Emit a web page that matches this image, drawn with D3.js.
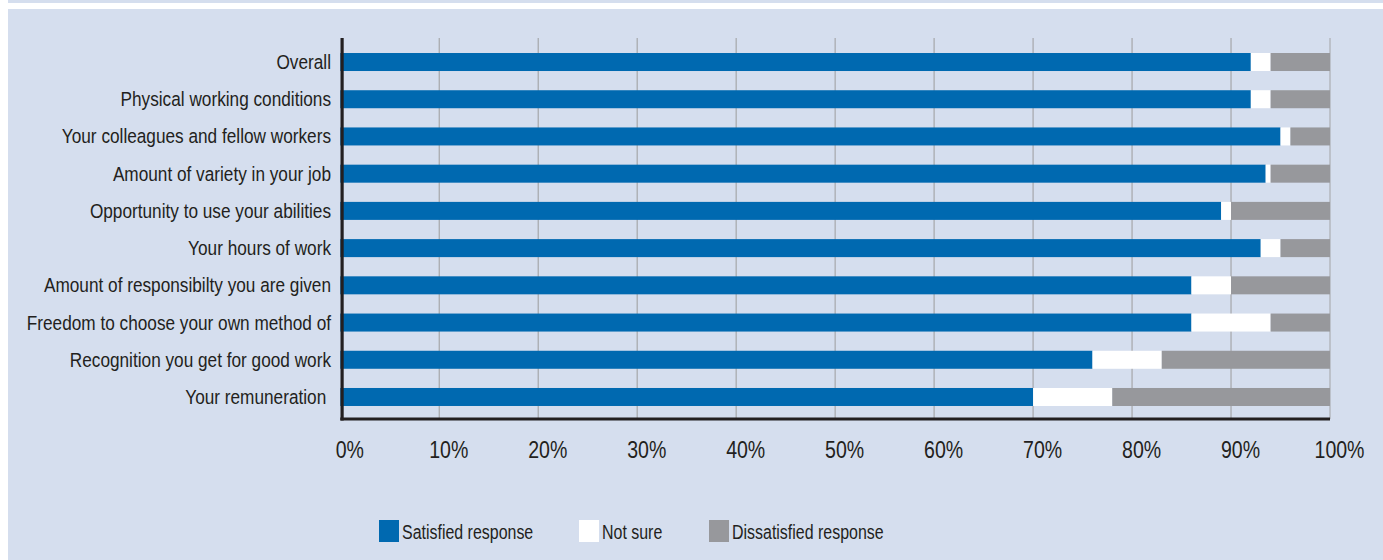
<!DOCTYPE html>
<html>
<head>
<meta charset="utf-8">
<script src="https://cdn.jsdelivr.net/npm/d3@7"></script>
<style>
  html, body { margin: 0; padding: 0; background: #ffffff; }
  svg text { font-family: "Liberation Sans", Arial, sans-serif; fill: #231f20; }
</style>
</head>
<body>
<div id="vis"></div>
<script>
var width = 1383, height = 560;

// Data
var categories = [
  "Overall",
  "Physical working conditions",
  "Your colleagues and fellow workers",
  "Amount of variety in your job",
  "Opportunity to use your abilities",
  "Your hours of work",
  "Amount of responsibilty you are given",
  "Freedom to choose your own method of",
  "Recognition you get for good work",
  "Your remuneration "
];
var satisfied    = [92, 92, 95, 93.5, 89, 93, 86, 86, 76, 70];
var notSure      = [2, 2, 1, 0.5, 1, 2, 4, 8, 7, 8];
var dissatisfied = [6, 6, 4, 6, 10, 5, 10, 6, 17, 22];
var seriesNames  = ["Satisfied response", "Not sure", "Dissatisfied response"];
var seriesColors = ["#0069b0", "#ffffff", "#97989c"];
var tickValues   = [0, 10, 20, 30, 40, 50, 60, 70, 80, 90, 100];

var rows = categories.map(function(c, i) {
  return {cat: c, s0: satisfied[i], s1: notSure[i], s2: dissatisfied[i]};
});
var stack = d3.stack().keys(["s0", "s1", "s2"]);
var layers = stack(rows);

var svg = d3.select("#vis").append("svg")
    .attr("width", width)
    .attr("height", height);

// background panel
svg.append("rect").attr("x", 8).attr("y", 0).attr("width", width - 8).attr("height", 3).attr("fill", "#d5deee");
svg.append("rect").attr("x", 8).attr("y", 9).attr("width", width - 8).attr("height", height - 9).attr("fill", "#d5deee");

var x = d3.scaleLinear().domain([0, 100]).range([340.3, 1330]);
var y = d3.scaleBand().domain(categories).range([43.4, 415.6]);
var barH = 18;
var plotTop = 38, plotBottom = 419;
// no condensed font available, so squeeze text horizontally
var squeeze = 0.84;

// gridlines
svg.append("g").selectAll("line")
    .data(tickValues.slice(1))
    .enter().append("line")
    .attr("x1", function(d) { return x(d); })
    .attr("x2", function(d) { return x(d); })
    .attr("y1", plotTop)
    .attr("y2", plotBottom)
    .attr("stroke", function(d) { return d === 100 ? "#bcc1ca" : "#a9abaf"; })
    .attr("stroke-width", function(d) { return d === 100 ? 2 : 1.3; });

// bars
svg.append("g").selectAll("g")
    .data(layers)
    .enter().append("g")
    .attr("fill", function(d, i) { return seriesColors[i]; })
    .selectAll("rect")
    .data(function(d) { return d; })
    .enter().append("rect")
    .attr("x", function(d) { return x(d[0]); })
    .attr("width", function(d) { return x(d[1]) - x(d[0]); })
    .attr("y", function(d) { return y(d.data.cat) + y.bandwidth() / 2 - barH / 2; })
    .attr("height", barH);

// axis lines
svg.append("line")
    .attr("x1", x(0) + 1.8).attr("x2", x(0) + 1.8)
    .attr("y1", plotTop).attr("y2", plotBottom + 1.5)
    .attr("stroke", "#231f20").attr("stroke-width", 3.2);
svg.append("line")
    .attr("x1", x(0)).attr("x2", x(100))
    .attr("y1", plotBottom).attr("y2", plotBottom)
    .attr("stroke", "#231f20").attr("stroke-width", 3);

// category labels
svg.append("g").selectAll("text")
    .data(categories)
    .enter().append("text")
    .attr("transform", function(d) {
        return "translate(331," + (y(d) + y.bandwidth() / 2 + 7) + ") scale(" + squeeze + ",1)";
    })
    .attr("text-anchor", "end")
    .style("white-space", "pre")
    .style("font-size", "20.5px")
    .text(function(d) { return d; });

// x axis tick labels
var xAxis = d3.axisBottom(x).tickValues(tickValues)
    .tickFormat(function(d) { return d + "%"; })
    .tickSize(0).tickPadding(0);
var gx = svg.append("g")
    .attr("transform", "translate(9," + 458 + ")")
    .call(xAxis);
gx.select(".domain").remove();
gx.selectAll("text")
    .attr("dy", 0)
    .attr("y", 0)
    .attr("transform", "scale(0.85,1)")
    .attr("font-family", null)
    .style("font-size", "23px")
    .style("fill", "#231f20");

// legend
var legendX = [379, 579, 709];
var legend = svg.append("g").selectAll("g")
    .data(seriesNames)
    .enter().append("g")
    .attr("transform", function(d, i) { return "translate(" + legendX[i] + ",520)"; });
legend.append("rect")
    .attr("width", 20).attr("height", 22)
    .attr("fill", function(d, i) { return seriesColors[i]; });
legend.append("text")
    .attr("transform", "translate(23,18.5) scale(0.76,1)")
    .style("font-size", "21px")
    .text(function(d) { return d; });
</script>
</body>
</html>
